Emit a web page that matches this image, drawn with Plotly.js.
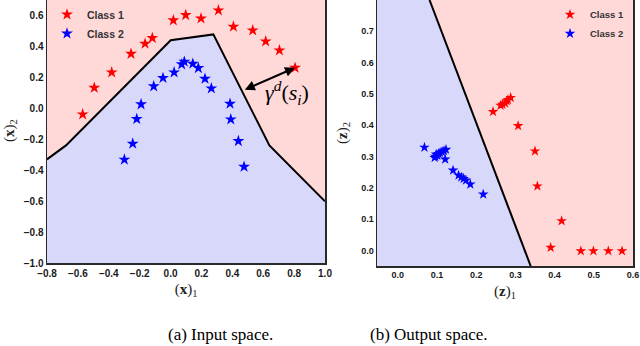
<!DOCTYPE html>
<html>
<head>
<meta charset="utf-8">
<script src="https://cdn.plot.ly/plotly-3.0.1.min.js"></script>
<style>
  body { margin: 0; padding: 0; background: #fff; }
  #plot { width: 640px; height: 346px; }
</style>
</head>
<body>
<div id="plot"></div>
<script>
// input space (left)
var in_c1_x = [-0.569, -0.494, -0.381, -0.256, -0.165, -0.118, 0.018, 0.098, 0.197, 0.310, 0.407, 0.532, 0.616, 0.705, 0.806];
var in_c1_y = [-0.041, 0.131, 0.230, 0.350, 0.415, 0.452, 0.566, 0.600, 0.578, 0.630, 0.525, 0.501, 0.430, 0.372, 0.260];
var in_c2_x = [-0.299, -0.245, -0.219, -0.191, -0.109, -0.049, 0.023, 0.072, 0.089, 0.144, 0.180, 0.223, 0.264, 0.385, 0.390, 0.439, 0.476];
var in_c2_y = [-0.333, -0.230, -0.071, 0.024, 0.140, 0.194, 0.230, 0.282, 0.299, 0.286, 0.258, 0.189, 0.127, 0.028, -0.073, -0.213, -0.379];
var in_bound_x = [-0.8, -0.677, 0.001, 0.277, 0.640, 1.0];
var in_bound_y = [-0.331, -0.241, 0.437, 0.475, -0.241, -0.602];
var in_xrange = [-0.8, 1.0];
var in_yrange = [-1.0, 0.697];
var in_xticks = [-0.8, -0.6, -0.4, -0.2, 0.0, 0.2, 0.4, 0.6, 0.8, 1.0];
var in_yticks = [-1.0, -0.8, -0.6, -0.4, -0.2, 0.0, 0.2, 0.4, 0.6];
var margin_from = [0.471, 0.114];   // boundary end of the gamma arrow
var margin_to = [0.806, 0.260];     // red point

// output space (right)
var out_c1_x = [0.243, 0.262, 0.267, 0.274, 0.278, 0.281, 0.288, 0.307, 0.350, 0.356, 0.418, 0.390, 0.467, 0.499, 0.537, 0.572];
var out_c1_y = [0.443, 0.463, 0.466, 0.470, 0.477, 0.481, 0.488, 0.398, 0.317, 0.205, 0.094, 0.009, -0.002, -0.002, -0.002, -0.002];
var out_c2_x = [0.068, 0.094, 0.096, 0.098, 0.101, 0.104, 0.108, 0.113, 0.118, 0.121, 0.123, 0.141, 0.155, 0.162, 0.168, 0.174, 0.185, 0.218];
var out_c2_y = [0.329, 0.296, 0.300, 0.307, 0.303, 0.309, 0.312, 0.315, 0.318, 0.291, 0.322, 0.256, 0.240, 0.234, 0.229, 0.224, 0.211, 0.179];
var out_bound_x = [0.081, 0.339];
var out_bound_y = [0.800, -0.050];
var out_xrange = [-0.053, 0.6];
var out_yrange = [-0.05, 0.8];
var out_xticks = [0.0, 0.1, 0.2, 0.3, 0.4, 0.5, 0.6];
var out_yticks = [0.0, 0.1, 0.2, 0.3, 0.4, 0.5, 0.6, 0.7];

var pink = '#FFD8D8';
var lilac = '#D8D8FB';
var serif = '"Liberation Serif", serif';
var sans = '"Liberation Sans", Arial, sans-serif';

function fmt(v) {
    return v.toFixed(1).replace('-', '\u2212');
}

// blue region below the left boundary
var in_fill_x = in_bound_x.concat([in_xrange[1], in_xrange[0]]);
var in_fill_y = in_bound_y.concat([in_yrange[0], in_yrange[0]]);
// blue region left of the right boundary
var out_fill_x = [out_xrange[0], out_xrange[0]].concat(out_bound_x);
var out_fill_y = [out_yrange[0], out_yrange[1]].concat(out_bound_y);

var traces = [
    {x: in_fill_x, y: in_fill_y, fill: 'toself', fillcolor: lilac, mode: 'lines',
     line: {width: 0}, showlegend: false, hoverinfo: 'skip', xaxis: 'x', yaxis: 'y'},
    {x: in_bound_x, y: in_bound_y, mode: 'lines', line: {color: 'black', width: 2},
     showlegend: false, xaxis: 'x', yaxis: 'y'},
    {x: in_c1_x, y: in_c1_y, mode: 'markers', name: 'Class 1',
     marker: {symbol: 'star', size: 9, color: 'red'}, xaxis: 'x', yaxis: 'y', legend: 'legend'},
    {x: in_c2_x, y: in_c2_y, mode: 'markers', name: 'Class 2',
     marker: {symbol: 'star', size: 9, color: 'blue'}, xaxis: 'x', yaxis: 'y', legend: 'legend'},

    {x: out_fill_x, y: out_fill_y, fill: 'toself', fillcolor: lilac, mode: 'lines',
     line: {width: 0}, showlegend: false, hoverinfo: 'skip', xaxis: 'x2', yaxis: 'y2'},
    {x: out_bound_x, y: out_bound_y, mode: 'lines', line: {color: 'black', width: 2},
     showlegend: false, xaxis: 'x2', yaxis: 'y2'},
    {x: out_c1_x, y: out_c1_y, mode: 'markers', name: 'Class 1',
     marker: {symbol: 'star', size: 8, color: 'red'}, xaxis: 'x2', yaxis: 'y2', legend: 'legend2'},
    {x: out_c2_x, y: out_c2_y, mode: 'markers', name: 'Class 2',
     marker: {symbol: 'star', size: 8, color: 'blue'}, xaxis: 'x2', yaxis: 'y2', legend: 'legend2'}
];

var titlefont = {family: serif, size: 15, color: '#222'};

function axis(range, ticks, domain, anchor, title, standoff, fsize) {
    return {
        domain: domain, anchor: anchor, range: range,
        tickmode: 'array', tickvals: ticks, ticktext: ticks.map(fmt),
        showgrid: false, zeroline: false, ticks: '',
        showline: true, mirror: true, linecolor: '#2a2a2a', linewidth: 1.5,
        tickfont: {family: sans, size: fsize, color: '#1a1a1a', weight: 'bold'},
        title: {text: title, font: titlefont, standoff: standoff}
    };
}

var layout = {
    width: 640, height: 346,
    margin: {l: 0, r: 0, t: 0, b: 0},
    paper_bgcolor: 'white',
    plot_bgcolor: pink,
    xaxis: axis(in_xrange, in_xticks, [47 / 640, 325 / 640], 'y', '(<b>x</b>)<sub>1</sub>', 6, 10),
    yaxis: axis(in_yrange, in_yticks, [1 - 263 / 346, 1], 'x', '', 2, 10),
    xaxis2: axis(out_xrange, out_xticks, [377 / 640, 633 / 640], 'y2', '(<b>z</b>)<sub>1</sub>', 6, 9),
    yaxis2: axis(out_yrange, out_yticks, [1 - 266 / 346, 1], 'x2', '(<b>z</b>)<sub>2</sub>', 10, 9),
    legend: {
        x: 47 / 640, y: 1, xanchor: 'left', yanchor: 'top',
        bgcolor: 'rgba(0,0,0,0)',
        font: {family: sans, size: 10.5, color: '#333', weight: 'bold'},
        tracegroupgap: 0, itemclick: false
    },
    legend2: {
        x: 550 / 640, y: 1, xanchor: 'left', yanchor: 'top',
        bgcolor: 'rgba(0,0,0,0)',
        font: {family: sans, size: 9.5, color: '#333', weight: 'bold'},
        tracegroupgap: 0, itemclick: false
    },
    annotations: [
        {x: margin_to[0], y: margin_to[1], ax: margin_from[0], ay: margin_from[1],
         xref: 'x', yref: 'y', axref: 'x', ayref: 'y', text: '', showarrow: true,
         arrowhead: 2, startarrowhead: 2, arrowside: 'end+start', arrowsize: 1,
         arrowwidth: 2, arrowcolor: 'black', standoff: 0, startstandoff: 0},
        {x: 0.751, y: 0.097, xref: 'x', yref: 'y', showarrow: false,
         text: '<i>\u03b3</i><sup><i>d</i></sup>(<i>s</i><sub><i>i</i></sub>)',
         font: {family: serif, size: 22, color: 'black'}},
        {x: 10 / 640, y: 1 - 131 / 346, xref: 'paper', yref: 'paper', showarrow: false,
         xanchor: 'center', yanchor: 'middle',
         textangle: -90, text: '(<b>x</b>)<sub>2</sub>', font: titlefont},
        {x: 166 / 640, y: 0, xref: 'paper', yref: 'paper', yanchor: 'bottom', showarrow: false,
         text: '(a) Input space.',
         font: {family: serif, size: 17, color: 'black'}},
        {x: 490 / 640, y: 0, xref: 'paper', yref: 'paper', yanchor: 'bottom', showarrow: false,
         text: '(b) Output space.',
         font: {family: serif, size: 17, color: 'black'}}
    ]
};

Plotly.newPlot('plot', traces, layout, {displayModeBar: false, staticPlot: true});
</script>
</body>
</html>
